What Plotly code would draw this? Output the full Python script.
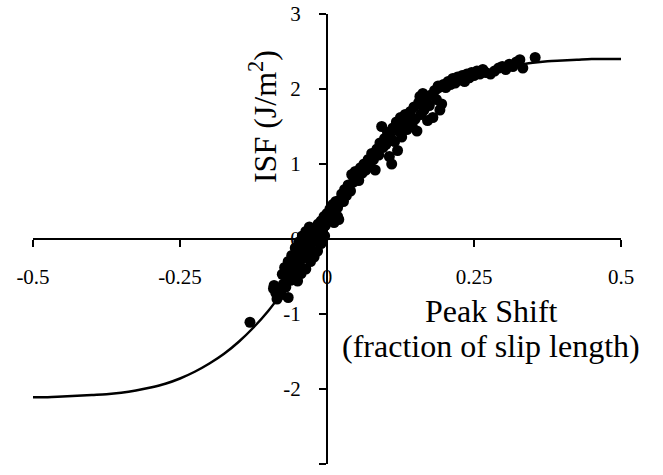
import plotly.graph_objects as go

# Measured ISF versus peak shift
shift = [
    -0.131, -0.090, -0.087, -0.085, -0.082, -0.078, -0.074, -0.070, -0.068, -0.065, -0.062, -0.060, -0.058,
    -0.055, -0.052, -0.050, -0.047, -0.044, -0.042, -0.040, -0.037, -0.035, -0.032, -0.030, -0.028, -0.025,
    -0.022, -0.020, -0.018, -0.015, -0.012, -0.010, -0.008, -0.005, -0.003, 0.000,
    -0.091, -0.076, -0.072, -0.066, -0.060, -0.054, -0.048, -0.042, -0.036, -0.030,
    -0.066, -0.050, -0.044, -0.036, -0.028, -0.022, -0.016, -0.010, -0.004, 0.012, 0.018,
    0.003, 0.005, 0.008, 0.010, 0.012, 0.015, 0.018, 0.020, 0.022, 0.025, 0.028, 0.030, 0.033, 0.036, 0.040,
    0.042, 0.045, 0.048, 0.050, 0.054, 0.057, 0.060,
    0.063, 0.066, 0.070, 0.073, 0.076, 0.079, 0.082, 0.085, 0.088, 0.090, 0.093, 0.095, 0.098, 0.100, 0.103,
    0.106, 0.108, 0.110, 0.112, 0.115, 0.118, 0.120, 0.122, 0.125, 0.127, 0.130,
    0.133, 0.136, 0.139, 0.142, 0.145, 0.148, 0.150, 0.153, 0.156, 0.158, 0.160, 0.163, 0.165, 0.168, 0.171,
    0.174, 0.177, 0.180, 0.183, 0.186, 0.189, 0.192, 0.195, 0.198,
    0.202, 0.206, 0.210, 0.214, 0.218, 0.222, 0.226, 0.230, 0.234, 0.238, 0.242, 0.246, 0.250, 0.255, 0.260,
    0.265, 0.270, 0.278, 0.285, 0.292, 0.298, 0.304, 0.310, 0.316, 0.322, 0.328, 0.333, 0.354,
]
isf = [
    -1.11, -0.62, -0.72, -0.80, -0.66, -0.74, -0.60, -0.64, -0.50, -0.42, -0.55, -0.35, -0.46,
    -0.30, -0.40, -0.22, -0.33, -0.18, -0.26, -0.10, -0.20, -0.05, -0.14, 0.02, -0.08, 0.08,
    -0.02, 0.14, 0.05, 0.20, 0.10, 0.24, 0.15, 0.30, 0.18, 0.34,
    -0.66, -0.47, -0.38, -0.30, -0.22, -0.12, -0.04, 0.04, 0.10, 0.16,
    -0.78, -0.56, -0.46, -0.40, -0.30, -0.24, -0.16, -0.06, 0.04, 0.22, 0.30,
    0.26, 0.40, 0.30, 0.46, 0.36, 0.50, 0.42, 0.26, 0.52, 0.60, 0.50, 0.66, 0.58, 0.72, 0.64,
    0.86, 0.76, 0.90, 0.82, 0.78, 0.95, 0.88,
    1.00, 0.92, 1.06, 0.98, 1.14, 1.06, 0.92, 1.20, 1.12, 1.28, 1.50, 1.22, 1.34, 1.26, 1.42,
    1.10, 1.36, 1.00, 1.48, 1.30, 1.56, 1.18, 1.44, 1.62, 1.36, 1.52,
    1.66, 1.46, 1.58, 1.70, 1.50, 1.76, 1.60, 1.44, 1.82, 1.90, 1.66, 1.94, 1.72, 1.84, 1.58,
    1.78, 1.92, 1.62, 1.98, 1.86, 2.04, 1.72, 1.80, 2.06,
    2.02, 2.10, 2.06, 2.14, 2.08, 2.16, 2.12, 2.18, 2.10, 2.20, 2.15, 2.22, 2.18, 2.24, 2.20,
    2.26, 2.22, 2.20, 2.24, 2.28, 2.30, 2.26, 2.33, 2.30, 2.36, 2.39, 2.28, 2.42,
]

# Fitted curve
fit_x = [
    -0.500, -0.475, -0.450, -0.425, -0.400, -0.375, -0.350, -0.325, -0.300, -0.275, -0.250,
    -0.225, -0.200, -0.175, -0.150, -0.125, -0.100, -0.075, -0.050, -0.025, 0.000,
    0.025, 0.050, 0.075, 0.100, 0.125, 0.150, 0.175, 0.200, 0.225, 0.250,
    0.275, 0.300, 0.325, 0.350, 0.375, 0.400, 0.425, 0.450, 0.475, 0.500,
]
fit_y = [
    -2.11, -2.11, -2.10, -2.09, -2.08, -2.07, -2.05, -2.02, -1.98, -1.93, -1.86,
    -1.77, -1.66, -1.53, -1.37, -1.18, -0.96, -0.70, -0.42, -0.13, 0.16,
    0.46, 0.76, 1.04, 1.30, 1.52, 1.71, 1.87, 2.00, 2.10, 2.18,
    2.24, 2.29, 2.32, 2.35, 2.37, 2.38, 2.39, 2.40, 2.40, 2.40,
]

x_ticks = [-0.5, -0.25, 0, 0.25, 0.5]
x_tick_labels = ["-0.5", "-0.25", "0", "0.25", "0.5"]
y_ticks = [-3, -2, -1, 0, 1, 2, 3]
y_tick_labels = ["-3", "-2", "-1", "0", "1", "2", "3"]

FONT = "Liberation Serif, Times New Roman, serif"

fig = go.Figure()
fig.add_trace(go.Scatter(
    x=fit_x, y=fit_y, mode="lines",
    line=dict(color="black", width=2.5, shape="spline", smoothing=1.0),
    hoverinfo="skip", showlegend=False,
))
fig.add_trace(go.Scatter(
    x=shift, y=isf, mode="markers",
    marker=dict(color="black", size=11, line=dict(width=0)),
    showlegend=False,
))

axis_common = dict(
    showgrid=False, zeroline=False, showline=True, linecolor="black", linewidth=2,
    ticks="outside", tickcolor="black", tickwidth=2,
    tickfont=dict(family=FONT, size=21, color="black"),
    anchor="free", position=0.5, automargin=False,
)
fig.update_xaxes(range=[-0.5, 0.5], tickvals=x_ticks, ticktext=x_tick_labels,
                 ticklen=7, ticklabelstandoff=12, **axis_common)
fig.update_yaxes(range=[-3, 3], tickvals=y_ticks, ticktext=y_tick_labels,
                 ticklen=7, ticklabelstandoff=14, **axis_common)

title_font = dict(family=FONT, size=32, color="black")
fig.add_annotation(text="Peak Shift", xref="paper", yref="paper",
                   x=0.779, y=(464 - 311) / 450, xanchor="center", yanchor="middle",
                   showarrow=False, font=title_font)
fig.add_annotation(text="(fraction of slip length)", xref="paper", yref="paper",
                   x=0.779, y=(464 - 346) / 450, xanchor="center", yanchor="middle",
                   showarrow=False, font=title_font)
fig.add_annotation(text="ISF (J/m<sup>2</sup>)", xref="paper", yref="paper",
                   x=0.391, y=0.773, xanchor="center", yanchor="middle", textangle=-90,
                   showarrow=False, font=title_font)

fig.update_layout(
    width=663, height=475,
    margin=dict(l=33, r=42, t=14, b=11),
    paper_bgcolor="white", plot_bgcolor="white",
)

fig.write_html("out.html")
